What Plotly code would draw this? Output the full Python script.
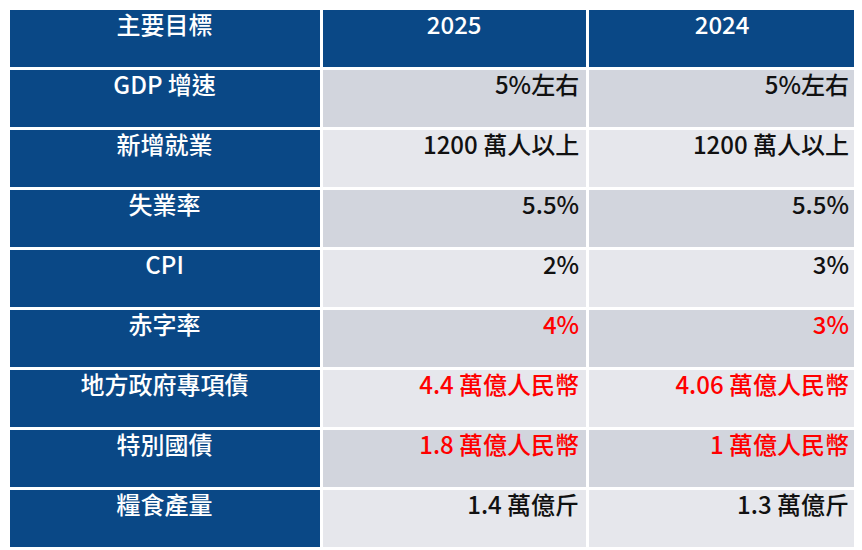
import plotly.graph_objects as go

headers = ["主要目標", "2025", "2024"]
targets = ["GDP 增速", "新增就業", "失業率", "CPI", "赤字率", "地方政府專項債", "特別國債", "糧食產量"]
y2025 = ["5%左右", "1200 萬人以上", "5.5%", "2%", "4%", "4.4 萬億人民幣", "1.8 萬億人民幣", "1.4 萬億斤"]
y2024 = ["5%左右", "1200 萬人以上", "5.5%", "3%", "3%", "4.06 萬億人民幣", "1 萬億人民幣", "1.3 萬億斤"]
red_rows = [False, False, False, False, True, True, True, False]

blue = "#0a4886"
stripes = ["#d2d5dd" if i % 2 == 0 else "#e6e7ec" for i in range(len(targets))]
valcolors = ["#ff0000" if r else "#111111" for r in red_rows]
fam = "Noto Sans CJK TC Medium, Noto Sans CJK TC"

fig = go.Figure(go.Table(
    domain=dict(x=[0, 0.985], y=[0, 1]),
    columnwidth=[318, 270, 274],
    header=dict(values=headers, fill_color=blue,
                line=dict(color="white", width=3), align="center", height=60,
                font=dict(color="white", size=24, family=fam)),
    cells=dict(values=[targets, y2025, y2024],
               fill_color=[[blue] * len(targets), stripes, stripes],
               line=dict(color="white", width=3),
               align=["center", "right", "right"], height=60,
               font=dict(color=[["white"] * len(targets), valcolors, valcolors],
                         size=24, family=fam)),
))
fig.update_layout(width=862, height=550, margin=dict(l=0, r=0, t=0, b=0),
                  paper_bgcolor="white")
fig.write_html("out.html")
